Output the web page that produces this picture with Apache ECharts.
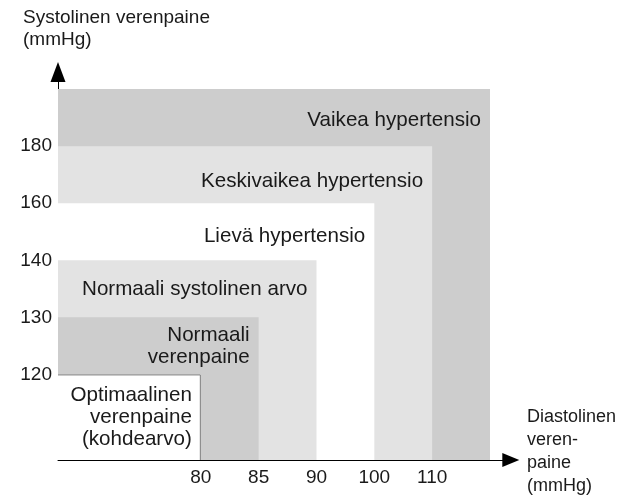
<!DOCTYPE html>
<html>
<head>
<meta charset="utf-8">
<script src="https://cdn.jsdelivr.net/npm/echarts@6/dist/echarts.min.js"></script>
<style>
  html, body { margin: 0; padding: 0; background: #fff; }
  #chart { width: 625px; height: 500px; }
</style>
</head>
<body>
<div id="chart"></div>
<script>
// Blood pressure classes: upper limits of diastolic and systolic pressure (mmHg).
// The last class has no upper limit (null) and extends one step past the last tick.
const categories = [
  'Optimaalinen\nverenpaine\n(kohdearvo)',
  'Normaali\nverenpaine',
  'Normaali systolinen arvo',
  'Lievä hypertensio',
  'Keskivaikea hypertensio',
  'Vaikea hypertensio'
];
const diastolicLimits = [80, 85, 90, 100, 110, null];
const systolicLimits = [120, 130, 140, 160, 180, null];

// Tick labels on each axis
const diastolicTicks = [80, 85, 90, 100, 110];
const systolicTicks = [120, 130, 140, 160, 180];

// Fill per class and a small vertical nudge (px) for each class label
const classColors = ['#ffffff', '#cdcdcd', '#e3e3e3', '#ffffff', '#e3e3e3', '#cdcdcd'];
const labelNudge = [0, 0, 0, 5, 7, 3];

// Both axes are ordinal: every threshold sits one step further out.
const X_FIRST = 2.47;  // axis position of the first diastolic tick
const Y_FIRST = 1.5;   // axis position of the first systolic tick
function xPos(v) {
  const i = v === null ? diastolicTicks.length : diastolicTicks.indexOf(v);
  return X_FIRST + i;
}
function yPos(v) {
  const i = v === null ? systolicTicks.length : systolicTicks.indexOf(v);
  return Y_FIRST + i;
}

const FONT = '"Liberation Sans", Arial, Helvetica, sans-serif';
const TEXT = '#1a1a1a';

// Draw the largest class first so smaller ones sit on top.
const order = categories.map((c, i) => i).reverse();
const rectData = order.map(i => {
  const innerTop = i > 0 ? yPos(systolicLimits[i - 1]) : 0;
  return {
    value: [xPos(diastolicLimits[i]), yPos(systolicLimits[i]), innerTop],
    name: categories[i],
    idx: i
  };
});

const xTickPos = diastolicTicks.map(xPos);
const yTickPos = systolicTicks.map(yPos);

const chart = echarts.init(document.getElementById('chart'), null, { renderer: 'canvas' });

chart.setOption({
  animation: false,
  backgroundColor: '#ffffff',
  grid: { left: 58, top: 72, width: 452.8, height: 388, containLabel: false },
  xAxis: {
    type: 'value', min: 0, max: 7.83,
    axisLine: { show: true, symbol: ['none', 'triangle'], symbolSize: [14, 17],
      lineStyle: { color: '#000', width: 1 } },
    axisTick: { show: false },
    splitLine: { show: false },
    axisLabel: {
      customValues: xTickPos,
      color: TEXT, fontFamily: FONT, fontSize: 19, margin: 8,
      formatter: v => {
        const k = xTickPos.findIndex(p => Math.abs(p - v) < 1e-6);
        return k >= 0 ? String(diastolicTicks[k]) : '';
      }
    }
  },
  yAxis: {
    type: 'value', min: 0, max: 6.8,
    axisLine: { show: true, symbol: ['none', 'triangle'], symbolSize: [15, 20],
      lineStyle: { color: '#000', width: 1 } },
    axisTick: { show: false },
    splitLine: { show: false },
    axisLabel: {
      customValues: yTickPos,
      color: TEXT, fontFamily: FONT, fontSize: 19, margin: 6,
      formatter: v => {
        const k = yTickPos.findIndex(p => Math.abs(p - v) < 1e-6);
        return k >= 0 ? String(systolicTicks[k]) : '';
      }
    }
  },
  series: [{
    type: 'custom',
    clip: false,
    data: rectData,
    renderItem: (params, api) => {
      const item = rectData[params.dataIndex];
      const i = item.idx;
      const origin = api.coord([0, 0]);
      const corner = api.coord([api.value(0), api.value(1)]);
      const inner = api.coord([0, api.value(2)]);
      const x = origin[0], y = corner[1];
      const w = corner[0] - origin[0], h = origin[1] - corner[1];
      const children = [{
        type: 'rect',
        shape: { x: x, y: y, width: w, height: h },
        style: { fill: classColors[i], stroke: null }
      }];
      if (i === 0) {
        children.push({
          type: 'polyline',
          shape: { points: [[x, y + 0.5], [x + w - 0.5, y + 0.5], [x + w - 0.5, origin[1]]] },
          style: { stroke: '#7a7a7a', lineWidth: 1, fill: null }
        });
      }
      const bandMid = (y + inner[1]) / 2 + labelNudge[i];
      children.push({
        type: 'text',
        style: {
          x: corner[0] - 9, y: bandMid,
          text: item.name,
          align: 'right', verticalAlign: 'middle',
          fill: TEXT, font: '20.6px ' + FONT, lineHeight: 22
        }
      });
      return { type: 'group', children: children };
    },
    z: 1
  }],
  graphic: [
    { type: 'text', left: 23, top: 7,
      style: { text: 'Systolinen verenpaine\n(mmHg)', fill: TEXT, font: '19px ' + FONT, lineHeight: 22 } },
    { type: 'text', left: 527, top: 406,
      style: { text: 'Diastolinen\nveren-\npaine\n(mmHg)', fill: TEXT, font: '18px ' + FONT, lineHeight: 23 } }
  ]
});
</script>
</body>
</html>
